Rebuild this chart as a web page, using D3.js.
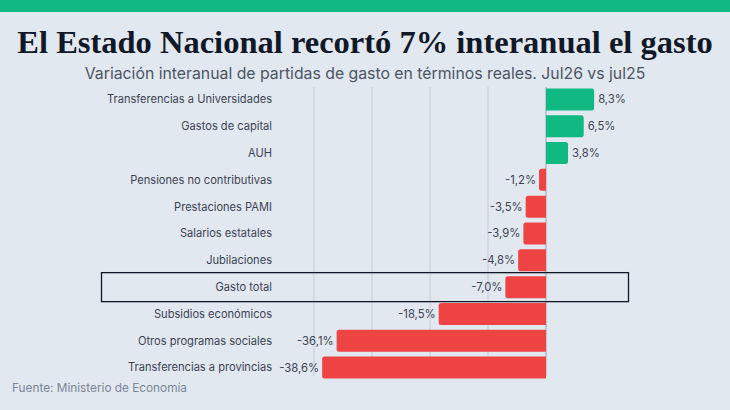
<!DOCTYPE html>
<html>
<head>
<meta charset="utf-8">
<script src="https://cdn.jsdelivr.net/npm/d3@7"></script>
<style>
  body { margin: 0; background: #e2e8f0; }
  svg { display: block; }
</style>
</head>
<body>
<svg id="chart" width="730" height="410"></svg>
<script>
// datos
const categorias = [
  "Transferencias a Universidades", "Gastos de capital", "AUH",
  "Pensiones no contributivas", "Prestaciones PAMI", "Salarios estatales",
  "Jubilaciones", "Gasto total", "Subsidios económicos",
  "Otros programas sociales", "Transferencias a provincias"
];
const variacion = [8.3, 6.5, 3.8, -1.2, -3.5, -3.9, -4.8, -7.0, -18.5, -36.1, -38.6];
const gridTicks = [-40, -30, -20, -10, 0];
const destacado = "Gasto total";

const svg = d3.select("#chart"),
    W = +svg.attr("width"), H = +svg.attr("height");

svg.append("rect").attr("width", W).attr("height", H).attr("fill", "#e2e8f0");
svg.append("rect").attr("width", W).attr("height", 12).attr("fill", "#10b981");

svg.append("text")
  .attr("x", W / 2).attr("y", 53)
  .attr("text-anchor", "middle")
  .style("font-family", "'Liberation Serif', serif")
  .style("font-weight", "bold")
  .style("font-size", "32.5px")
  .attr("fill", "#111827")
  .text("El Estado Nacional recortó 7% interanual el gasto");

svg.append("text")
  .attr("x", W / 2).attr("y", 79)
  .attr("text-anchor", "middle")
  .style("font-family", "Inter, sans-serif")
  .style("font-size", "15.8px")
  .attr("fill", "#4b5563")
  .text("Variación interanual de partidas de gasto en términos reales. Jul26 vs jul25");

const data = categorias.map((c, i) => ({ name: c, v: variacion[i] }));

const x = d3.scaleLinear().domain([-40, 0]).range([314, 546]);
const y = d3.scaleBand().domain(categorias).range([86, 381]).paddingInner(0.18).paddingOuter(0.09);

const g = svg.append("g");

// líneas de grilla
g.selectAll("line.grid").data(gridTicks).join("line")
  .attr("class", "grid")
  .attr("x1", d => x(d)).attr("x2", d => x(d))
  .attr("y1", 87).attr("y2", 376)
  .attr("stroke", d => d === 0 ? "#9ca3af" : "#c5ccd6")
  .attr("stroke-width", 1);

// barras con esquinas redondeadas del lado exterior
const r = 2.5;
function barPath(d) {
  const y0 = y(d.name), h = y.bandwidth(), x0 = x(0), x1 = x(d.v);
  if (d.v >= 0) {
    return `M${x0},${y0} H${x1 - r} Q${x1},${y0} ${x1},${y0 + r} V${y0 + h - r} Q${x1},${y0 + h} ${x1 - r},${y0 + h} H${x0} Z`;
  }
  return `M${x0},${y0} H${x1 + r} Q${x1},${y0} ${x1},${y0 + r} V${y0 + h - r} Q${x1},${y0 + h} ${x1 + r},${y0 + h} H${x0} Z`;
}

g.selectAll("path.bar").data(data).join("path")
  .attr("class", "bar")
  .attr("d", barPath)
  .attr("fill", d => d.v >= 0 ? "#10b981" : "#ef4444");

// recuadro del total
const yt = y(destacado);
g.append("rect")
  .attr("x", 101.5).attr("y", yt - 3.5)
  .attr("width", 527).attr("height", y.bandwidth() + 7)
  .attr("fill", "none")
  .attr("stroke", "#111827")
  .attr("stroke-width", 1.3);

// etiquetas de categorías
g.selectAll("text.cat").data(data).join("text")
  .attr("class", "cat")
  .attr("x", 272)
  .attr("y", d => y(d.name) + y.bandwidth() / 2)
  .attr("dy", "0.35em")
  .attr("text-anchor", "end")
  .style("font-family", "Inter, sans-serif")
  .style("font-size", "11.1px")
  .attr("fill", "#3b4352")
  .text(d => d.name);

// valores
const fmt = v => v.toFixed(1).replace(".", ",") + "%";
g.selectAll("text.val").data(data).join("text")
  .attr("class", "val")
  .attr("x", d => d.v >= 0 ? x(d.v) + 4 : x(d.v) - 3)
  .attr("y", d => y(d.name) + y.bandwidth() / 2)
  .attr("dy", "0.35em")
  .attr("text-anchor", d => d.v >= 0 ? "start" : "end")
  .style("font-family", "Inter, sans-serif")
  .style("font-size", "11.3px")
  .attr("fill", "#3b4352")
  .text(d => fmt(d.v));

svg.append("text")
  .attr("x", 12).attr("y", 392)
  .style("font-family", "Inter, sans-serif")
  .style("font-size", "11.8px")
  .attr("fill", "#7b8597")
  .text("Fuente: Ministerio de Economía");
</script>
</body>
</html>
